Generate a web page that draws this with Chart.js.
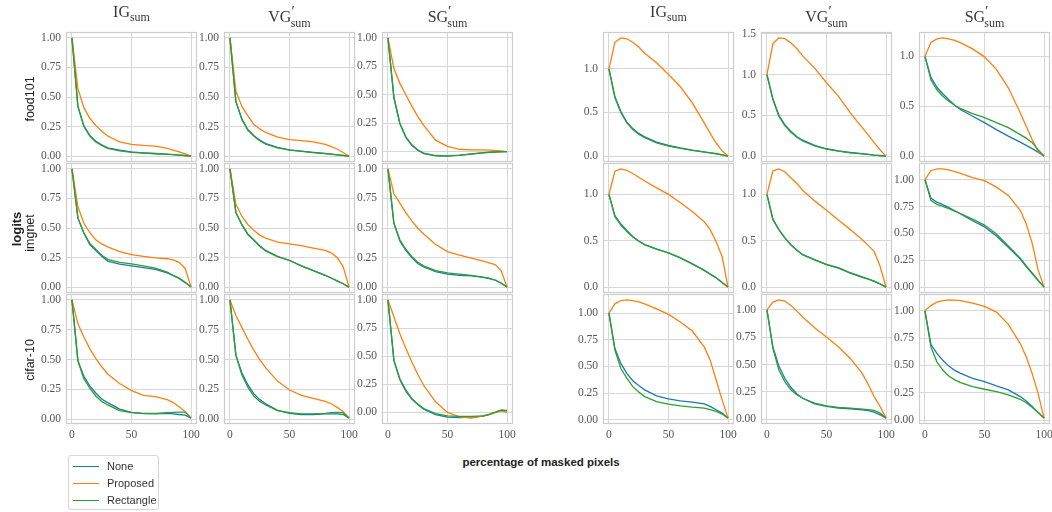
<!DOCTYPE html>
<html>
<head>
<meta charset="utf-8">
<script src="https://cdn.jsdelivr.net/npm/chart.js@4.4.1/dist/chart.umd.min.js"></script>
<style>
    body { margin: 0; background: #fff; }
    #fig { position: relative; width: 1052px; height: 512px; overflow: hidden; }
    #fig canvas { position: absolute; }
    .ttl { position: absolute; top: 3px; width: 131px; text-align: center; font-family: 'Liberation Serif', serif; font-size: 16px; color: #3a3a3a; }
    .ttl sub { font-size: 12px; }
    .ttl sup { font-size: 15px; }
    .rowlab { position: absolute; font-family: 'Liberation Sans', sans-serif; font-size: 12.5px; color: #222; transform: translate(-50%, -50%) rotate(-90deg); white-space: nowrap; }
    #xlab { position: absolute; left: 541px; top: 462px; transform: translate(-50%, -50%); font-family: 'Liberation Sans', sans-serif; font-weight: bold; font-size: 11.5px; color: #222; white-space: nowrap; }
    #legend { position: absolute; left: 68px; top: 455px; width: 91px; height: 55px; border: 1px solid #d6d6d6; border-radius: 3px; box-sizing: border-box; font-family: 'Liberation Sans', sans-serif; font-size: 11px; color: #333; }
    #legend div { position: absolute; left: 38px; transform: translateY(-50%); }
    #legend span { position: absolute; left: 4px; width: 26px; height: 0; border-top: 1.5px solid; }
</style>
</head>
<body>
<div id="fig"></div>
<script>
// x positions (percentage of masked pixels) shared by every curve
const xPct = [0, 5, 10, 15, 20, 25, 30, 40, 50, 60, 70, 80, 85, 90, 95, 100];
const xTicks = [0, 50, 100];
const yTicksQuarter = [0, 0.25, 0.5, 0.75, 1];
const yTicksHalf = [0, 0.5, 1];
const yTicksHalfWide = [0, 0.5, 1, 1.5];

const rowNames = ['food101', 'imgnet', 'cifar-10'];
const seriesNames = ['None', 'Proposed', 'Rectangle'];
const seriesColors = ['#1f77b4', '#ff7f0e', '#2ca02c'];

// ---- left block (logits) ----
// food101
const lFoodIgNone = [1, .42, .255, .175, .125, .095, .07, .05, .036, .028, .022, .016, .013, .009, .005, 0];
const lFoodIgProp = [1, .57, .41, .32, .26, .21, .17, .12, .10, .09, .085, .065, .05, .035, .018, 0];
const lFoodIgRect = [1, .42, .25, .17, .12, .09, .065, .045, .032, .025, .02, .015, .012, .008, .004, 0];
const lFoodVgNone = [1, .46, .315, .225, .175, .135, .105, .073, .053, .042, .032, .022, .017, .011, .006, 0];
const lFoodVgProp = [1, .55, .42, .34, .27, .23, .20, .16, .14, .13, .12, .10, .08, .06, .03, 0];
const lFoodVgRect = [1, .46, .31, .22, .17, .13, .10, .07, .05, .04, .03, .02, .016, .01, .005, 0];
const lFoodSgNone = [1, .47, .245, .125, .055, .012, -.018, -.038, -.04, -.034, -.022, -.012, -.008, -.004, -.002, 0];
const lFoodSgProp = [1, .73, .60, .50, .40, .31, .23, .10, .045, .02, .015, .015, .013, .01, .006, 0];
const lFoodSgRect = [1, .48, .25, .13, .06, .015, -.015, -.035, -.038, -.032, -.02, -.01, -.006, -.003, -.001, 0];
// imgnet
const lImgIgNone = [1, .585, .455, .36, .31, .26, .22, .195, .18, .165, .15, .12, .097, .073, .038, 0];
const lImgIgProp = [1, .68, .54, .46, .40, .365, .34, .30, .275, .26, .247, .24, .23, .21, .16, 0];
const lImgIgRect = [1, .585, .46, .37, .32, .27, .235, .21, .197, .18, .16, .126, .10, .076, .04, 0];
const lImgVgNone = [1, .63, .525, .445, .395, .345, .305, .258, .225, .18, .14, .10, .077, .053, .028, 0];
const lImgVgProp = [1, .70, .60, .53, .48, .44, .415, .38, .365, .35, .33, .31, .29, .25, .175, 0];
const lImgVgRect = [1, .63, .53, .45, .40, .35, .31, .26, .227, .18, .14, .10, .077, .053, .028, 0];
const lImgSgNone = [1, .54, .39, .31, .25, .20, .17, .13, .11, .10, .095, .082, .072, .058, .033, 0];
const lImgSgProp = [1, .79, .71, .63, .56, .50, .45, .36, .30, .27, .245, .22, .205, .19, .14, 0];
const lImgSgRect = [1, .54, .40, .32, .26, .21, .18, .14, .12, .11, .10, .085, .075, .06, .035, 0];
// cifar-10
const lCifIgNone = [1, .49, .36, .28, .22, .17, .14, .085, .058, .048, .045, .05, .045, .04, .035, .01];
const lCifIgProp = [1, .80, .69, .59, .51, .44, .38, .30, .24, .20, .19, .165, .14, .105, .065, .01];
const lCifIgRect = [1, .49, .34, .26, .195, .15, .12, .072, .055, .05, .05, .055, .058, .06, .06, .01];
const lCifVgNone = [1, .535, .39, .29, .215, .165, .13, .075, .05, .04, .04, .045, .045, .045, .04, .01];
const lCifVgProp = [1, .87, .77, .67, .58, .50, .43, .32, .245, .20, .175, .15, .13, .10, .065, .01];
const lCifVgRect = [1, .535, .37, .27, .195, .15, .12, .072, .055, .045, .045, .05, .055, .058, .055, .01];
const lCifSgNone = [1, .46, .29, .19, .12, .07, .03, -.02, -.042, -.045, -.042, -.033, -.02, 0, .02, .018];
const lCifSgProp = [1, .85, .70, .57, .45, .34, .24, .095, 0, -.04, -.05, -.03, -.017, 0, .015, 0];
const lCifSgRect = [1, .465, .30, .20, .125, .075, .035, -.01, -.03, -.035, -.035, -.03, -.018, 0, .02, .015];

// ---- right block ----
// food101
const rFoodIgNone = [1, .68, .51, .39, .315, .26, .22, .16, .122, .093, .069, .049, .038, .028, .015, 0];
const rFoodIgProp = [1, 1.305, 1.355, 1.345, 1.305, 1.25, 1.18, 1.07, .935, .795, .61, .38, .26, .15, .06, 0];
const rFoodIgRect = [1, .67, .50, .38, .305, .25, .21, .15, .115, .088, .065, .046, .036, .027, .015, 0];
const rFoodVgNone = [1, .70, .50, .385, .305, .24, .195, .132, .09, .065, .044, .03, .022, .013, .007, 0];
const rFoodVgProp = [1, 1.38, 1.45, 1.44, 1.39, 1.32, 1.23, 1.08, .90, .735, .53, .35, .26, .165, .075, 0];
const rFoodVgRect = [1, .695, .49, .375, .295, .23, .185, .125, .085, .06, .04, .028, .02, .012, .006, 0];
const rFoodSgNone = [1, .79, .69, .625, .565, .51, .465, .40, .335, .265, .20, .14, .108, .075, .04, 0];
const rFoodSgProp = [1, 1.14, 1.175, 1.185, 1.175, 1.16, 1.135, 1.075, .995, .87, .685, .435, .30, .165, .05, 0];
const rFoodSgRect = [1, .765, .665, .60, .55, .51, .475, .425, .385, .335, .285, .215, .18, .135, .065, 0];
// imgnet
const rImgIgNone = [1, .77, .68, .61, .545, .497, .458, .41, .37, .315, .25, .18, .14, .10, .05, 0];
const rImgIgProp = [1, 1.25, 1.275, 1.26, 1.225, 1.185, 1.145, 1.07, 1.0, .91, .815, .705, .62, .49, .33, 0];
const rImgIgRect = [1, .76, .67, .60, .54, .495, .457, .41, .37, .315, .25, .18, .14, .10, .05, 0];
const rImgVgNone = [1, .73, .62, .53, .457, .40, .35, .294, .243, .205, .15, .106, .085, .062, .033, 0];
const rImgVgProp = [1, 1.255, 1.275, 1.245, 1.18, 1.12, 1.045, .93, .83, .725, .62, .51, .45, .385, .225, 0];
const rImgVgRect = [1, .73, .62, .53, .457, .40, .35, .296, .245, .21, .155, .11, .088, .065, .035, 0];
const rImgSgNone = [1, .828, .79, .767, .74, .71, .68, .617, .561, .475, .37, .26, .19, .126, .06, 0];
const rImgSgProp = [1, 1.083, 1.10, 1.10, 1.09, 1.075, 1.058, 1.02, .99, .93, .853, .715, .59, .41, .16, 0];
const rImgSgRect = [1, .807, .77, .752, .73, .708, .685, .632, .577, .494, .383, .27, .20, .132, .065, 0];
// cifar-10
const rCifIgNone = [1, .667, .528, .435, .366, .32, .28, .224, .196, .177, .165, .149, .125, .093, .062, .015];
const rCifIgProp = [1, 1.087, 1.118, 1.124, 1.118, 1.105, 1.087, 1.04, .988, .916, .832, .683, .559, .373, .186, .015];
const rCifIgRect = [1, .652, .48, .39, .31, .26, .217, .17, .146, .13, .118, .109, .095, .078, .053, .015];
const rCifVgNone = [1, .66, .486, .375, .293, .235, .193, .142, .118, .103, .097, .088, .08, .066, .042, .012];
const rCifVgProp = [1, 1.07, 1.09, 1.08, 1.04, .99, .934, .837, .752, .662, .556, .42, .32, .208, .118, .012];
const rCifVgRect = [1, .647, .45, .345, .27, .225, .193, .148, .124, .109, .103, .094, .09, .082, .057, .012];
const rCifSgNone = [1, .694, .61, .548, .494, .455, .427, .382, .352, .312, .276, .215, .175, .124, .07, .018];
const rCifSgProp = [1, 1.048, 1.08, 1.094, 1.10, 1.098, 1.094, 1.07, 1.04, .988, .876, .70, .58, .427, .245, .018];
const rCifSgRect = [1, .67, .533, .458, .403, .368, .342, .306, .282, .26, .23, .19, .158, .118, .07, .018];

// subplot grid
const colLeft = [66, 224, 382, 603, 761, 919];
const rowTop = [32, 163, 294];
const frameW = 131;
const frameH = 130;
const colTitles = ['IG<sub>sum</sub>', 'VG<sup>′</sup><sub style="margin-left:-4px">sum</sub>', 'SG<sup>′</sup><sub style="margin-left:-4px">sum</sub>'];

const panels = [
    { col: 0, row: 0, s: [lFoodIgNone, lFoodIgProp, lFoodIgRect], ticks: yTicksQuarter, dec: 2 },
    { col: 1, row: 0, s: [lFoodVgNone, lFoodVgProp, lFoodVgRect], ticks: yTicksQuarter, dec: 2 },
    { col: 2, row: 0, s: [lFoodSgNone, lFoodSgProp, lFoodSgRect], ticks: yTicksQuarter, dec: 2 },
    { col: 0, row: 1, s: [lImgIgNone, lImgIgProp, lImgIgRect], ticks: yTicksQuarter, dec: 2 },
    { col: 1, row: 1, s: [lImgVgNone, lImgVgProp, lImgVgRect], ticks: yTicksQuarter, dec: 2 },
    { col: 2, row: 1, s: [lImgSgNone, lImgSgProp, lImgSgRect], ticks: yTicksQuarter, dec: 2 },
    { col: 0, row: 2, s: [lCifIgNone, lCifIgProp, lCifIgRect], ticks: yTicksQuarter, dec: 2 },
    { col: 1, row: 2, s: [lCifVgNone, lCifVgProp, lCifVgRect], ticks: yTicksQuarter, dec: 2 },
    { col: 2, row: 2, s: [lCifSgNone, lCifSgProp, lCifSgRect], ticks: yTicksQuarter, dec: 2 },
    { col: 3, row: 0, s: [rFoodIgNone, rFoodIgProp, rFoodIgRect], ticks: yTicksHalf, dec: 1 },
    { col: 4, row: 0, s: [rFoodVgNone, rFoodVgProp, rFoodVgRect], ticks: yTicksHalfWide, dec: 1 },
    { col: 5, row: 0, s: [rFoodSgNone, rFoodSgProp, rFoodSgRect], ticks: yTicksHalf, dec: 1 },
    { col: 3, row: 1, s: [rImgIgNone, rImgIgProp, rImgIgRect], ticks: yTicksHalf, dec: 1 },
    { col: 4, row: 1, s: [rImgVgNone, rImgVgProp, rImgVgRect], ticks: yTicksHalf, dec: 1 },
    { col: 5, row: 1, s: [rImgSgNone, rImgSgProp, rImgSgRect], ticks: yTicksQuarter, dec: 2 },
    { col: 3, row: 2, s: [rCifIgNone, rCifIgProp, rCifIgRect], ticks: yTicksQuarter, dec: 2 },
    { col: 4, row: 2, s: [rCifVgNone, rCifVgProp, rCifVgRect], ticks: yTicksQuarter, dec: 2 },
    { col: 5, row: 2, s: [rCifSgNone, rCifSgProp, rCifSgRect], ticks: yTicksQuarter, dec: 2 },
];

const fig = document.getElementById('fig');
const tickFont = { family: "'Liberation Serif', serif", size: 11.5 };
const tickColor = '#555';
const gridColor = '#d7d7d7';

// light grey box around each axes, like seaborn whitegrid
const framePlugin = {
    id: 'frame',
    beforeDatasetsDraw(chart) {
        const a = chart.chartArea;
        const ctx = chart.ctx;
        ctx.save();
        ctx.strokeStyle = '#cccccc';
        ctx.lineWidth = 1.2;
        ctx.strokeRect(a.left + 0.5, a.top + 0.5, a.right - a.left - 1, a.bottom - a.top - 1);
        ctx.restore();
    },
};

const PAD_L = 40, PAD_T = 14, PAD_R = 14, PAD_B = 14, XLAB_H = 22;

function drawPanel(p) {
    const bottomRow = p.row === 2;
    const canvas = document.createElement('canvas');
    const w = PAD_L + frameW + PAD_R;
    const h = PAD_T + frameH + (bottomRow ? XLAB_H : PAD_B);
    canvas.width = w;
    canvas.height = h;
    canvas.style.left = colLeft[p.col] - PAD_L + 'px';
    canvas.style.top = rowTop[p.row] - PAD_T + 'px';
    canvas.style.width = w + 'px';
    canvas.style.height = h + 'px';
    fig.appendChild(canvas);

    // matplotlib style 5% margins on the data range
    const all = p.s.flat();
    const lo = Math.min(...all);
    const hi = Math.max(...all);
    const m = (hi - lo) * 0.05;

    new Chart(canvas.getContext('2d'), {
        type: 'line',
        data: {
            datasets: p.s.map((vals, i) => ({
                label: seriesNames[i],
                data: xPct.map((x, k) => ({ x: x, y: vals[k] })),
                borderColor: seriesColors[i],
                borderWidth: 1.3,
                pointRadius: 0,
                tension: 0,
                fill: false,
                order: 2 - i,
            })),
        },
        options: {
            responsive: false,
            animation: false,
            events: [],
            layout: { padding: { left: 0, top: PAD_T, right: PAD_R, bottom: bottomRow ? 0 : PAD_B } },
            plugins: { legend: { display: false }, tooltip: { enabled: false } },
            scales: {
                x: {
                    type: 'linear',
                    min: -5,
                    max: 105,
                    afterBuildTicks: (s) => { s.ticks = xTicks.map((v) => ({ value: v })); },
                    afterFit: (s) => { s.height = bottomRow ? XLAB_H : 0; },
                    grid: { color: gridColor, lineWidth: 1, drawTicks: false },
                    border: { display: false },
                    ticks: { display: bottomRow, padding: 4, color: tickColor, font: tickFont, maxRotation: 0 },
                },
                y: {
                    type: 'linear',
                    min: lo - m,
                    max: hi + m,
                    afterBuildTicks: (s) => { s.ticks = p.ticks.map((v) => ({ value: v })); },
                    afterFit: (s) => { s.width = PAD_L; },
                    grid: { color: gridColor, lineWidth: 1, drawTicks: false },
                    border: { display: false },
                    ticks: { padding: 5, color: tickColor, font: tickFont, callback: (v) => Number(v).toFixed(p.dec) },
                },
            },
        },
        plugins: [framePlugin],
    });
}

panels.forEach(drawPanel);

// column titles
colLeft.forEach((left, c) => {
    const t = document.createElement('div');
    t.className = 'ttl';
    t.style.left = left + 'px';
    t.innerHTML = colTitles[c % 3];
    fig.appendChild(t);
});

// row labels
const rowLabelY = [99, 233, 360];
rowNames.forEach((name, r) => {
    const d = document.createElement('div');
    d.className = 'rowlab';
    d.style.left = '30px';
    d.style.top = rowLabelY[r] + 'px';
    d.textContent = name;
    fig.appendChild(d);
});
const logits = document.createElement('div');
logits.className = 'rowlab';
logits.style.left = '16px';
logits.style.top = '229px';
logits.style.fontWeight = 'bold';
logits.style.fontSize = '13px';
logits.textContent = 'logits';
fig.appendChild(logits);

// shared x label
const xl = document.createElement('div');
xl.id = 'xlab';
xl.textContent = 'percentage of masked pixels';
fig.appendChild(xl);

// legend
const lg = document.createElement('div');
lg.id = 'legend';
lg.innerHTML = seriesNames
    .map((n, i) => `<span style="top:${10 + i * 17}px;border-color:${seriesColors[i]}"></span><div style="top:${10 + i * 17}px">${n}</div>`)
    .join('');
fig.appendChild(lg);
</script>
</body>
</html>
